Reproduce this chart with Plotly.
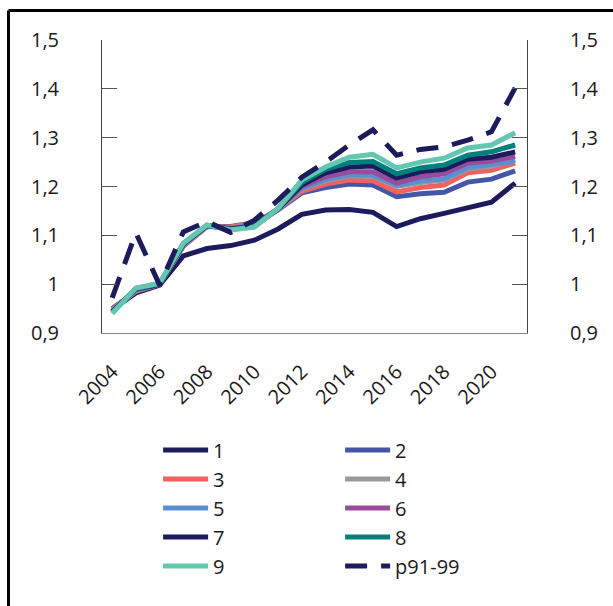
import plotly.graph_objects as go

# Years on the x-axis
years = list(range(2004, 2022))

# Index series, one per group
s1 = [0.948, 0.982, 0.998, 1.058, 1.073, 1.079, 1.090, 1.113, 1.143, 1.152, 1.153, 1.147, 1.118, 1.134, 1.145, 1.156, 1.168, 1.207]
s2 = [0.950, 0.985, 1.000, 1.078, 1.118, 1.118, 1.126, 1.152, 1.187, 1.198, 1.205, 1.203, 1.179, 1.185, 1.188, 1.209, 1.215, 1.232]
s3 = [0.948, 0.986, 1.000, 1.078, 1.118, 1.117, 1.125, 1.153, 1.190, 1.205, 1.213, 1.212, 1.189, 1.198, 1.203, 1.228, 1.233, 1.248]
s4 = [0.946, 0.987, 1.000, 1.079, 1.119, 1.115, 1.122, 1.153, 1.195, 1.212, 1.222, 1.221, 1.200, 1.208, 1.213, 1.236, 1.242, 1.255]
s5 = [0.945, 0.988, 1.000, 1.080, 1.119, 1.114, 1.121, 1.153, 1.196, 1.214, 1.224, 1.223, 1.202, 1.211, 1.216, 1.239, 1.245, 1.252]
s6 = [0.944, 0.989, 1.000, 1.081, 1.120, 1.114, 1.120, 1.154, 1.200, 1.220, 1.230, 1.230, 1.207, 1.220, 1.226, 1.248, 1.252, 1.262]
s7 = [0.943, 0.990, 1.000, 1.082, 1.120, 1.113, 1.119, 1.154, 1.203, 1.228, 1.240, 1.242, 1.217, 1.230, 1.235, 1.256, 1.260, 1.271]
s8 = [0.942, 0.991, 1.001, 1.083, 1.121, 1.112, 1.118, 1.155, 1.208, 1.235, 1.249, 1.251, 1.226, 1.238, 1.244, 1.264, 1.271, 1.285]
s9 = [0.940, 0.992, 1.002, 1.084, 1.121, 1.111, 1.117, 1.155, 1.213, 1.240, 1.260, 1.266, 1.238, 1.250, 1.258, 1.279, 1.285, 1.310]
p91_99 = [0.972, 1.105, 0.998, 1.107, 1.128, 1.106, 1.131, 1.172, 1.219, 1.250, 1.285, 1.316, 1.264, 1.276, 1.281, 1.295, 1.312, 1.402]

series_names = ["1", "2", "3", "4", "5", "6", "7", "8", "9"]
series_values = [s1, s2, s3, s4, s5, s6, s7, s8, s9]
series_colors = ["#1b1b5e", "#4457a6", "#f06262", "#9a9a9a", "#5b90d0",
                 "#984c9c", "#1b1b5e", "#00807c", "#62c6b0"]

# Axis ticks
y_tickvals = [0.9, 1.0, 1.1, 1.2, 1.3, 1.4, 1.5]
y_ticktext = ["0,9", "1", "1,1", "1,2", "1,3", "1,4", "1,5"]
x_tickvals = [2004, 2006, 2008, 2010, 2012, 2014, 2016, 2018, 2020]

FONT = "Open Sans"
TXT = "#1a1a1a"

fig = go.Figure()
for name, vals, col in zip(series_names, series_values, series_colors):
    fig.add_trace(go.Scatter(x=years, y=vals, name=name, mode="lines",
                             line=dict(color=col, width=5)))
fig.add_trace(go.Scatter(x=years, y=p91_99, name="p91-99", mode="lines",
                         line=dict(color="#1b1b5e", width=5, dash="22px,14px")))
# invisible trace carrying the right-hand axis
fig.add_trace(go.Scatter(x=[years[0]], y=[1.0], yaxis="y2", mode="lines",
                         showlegend=False, hoverinfo="skip",
                         line=dict(color="rgba(0,0,0,0)")))

yaxis_common = dict(range=[0.9, 1.5], tickvals=y_tickvals, ticktext=y_ticktext,
                    ticks="inside", ticklen=15, tickcolor="#555555",
                    showline=True, linecolor="#444444", linewidth=1,
                    showgrid=False, zeroline=False,
                    tickfont=dict(family=FONT, size=20, color=TXT),
                    ticklabelstandoff=38)

fig.update_layout(
    width=613, height=606,
    margin=dict(l=102, r=86, t=40, b=273, autoexpand=False),
    paper_bgcolor="white", plot_bgcolor="white",
    font=dict(family=FONT, size=20, color=TXT),
    xaxis=dict(range=[2003.57, 2021.5], tickvals=x_tickvals, tickangle=-45,
               ticks="", showline=True, linecolor="#888888", linewidth=1,
               showgrid=False, zeroline=False,
               tickfont=dict(family=FONT, size=20, color=TXT),
               ticklabelstandoff=18),
    yaxis=dict(side="left", **yaxis_common),
    yaxis2=dict(side="right", overlaying="y", **yaxis_common),
    legend=dict(orientation="h", x=0.132, xanchor="left", y=-0.333, yanchor="top",
                entrywidth=122, entrywidthmode="pixels", itemwidth=45,
                font=dict(family=FONT, size=20, color=TXT),
                bgcolor="rgba(0,0,0,0)", traceorder="normal"),
    shapes=[
        dict(type="line", xref="paper", yref="paper", x0=-0.22, x1=1.3,
             y0=1.1007, y1=1.1007, line=dict(color="black", width=3)),
        dict(type="line", xref="paper", yref="paper", x0=-0.22, x1=-0.22,
             y0=1.1007, y1=-1.0, line=dict(color="black", width=3)),
    ],
)

fig.write_html("out.html")
